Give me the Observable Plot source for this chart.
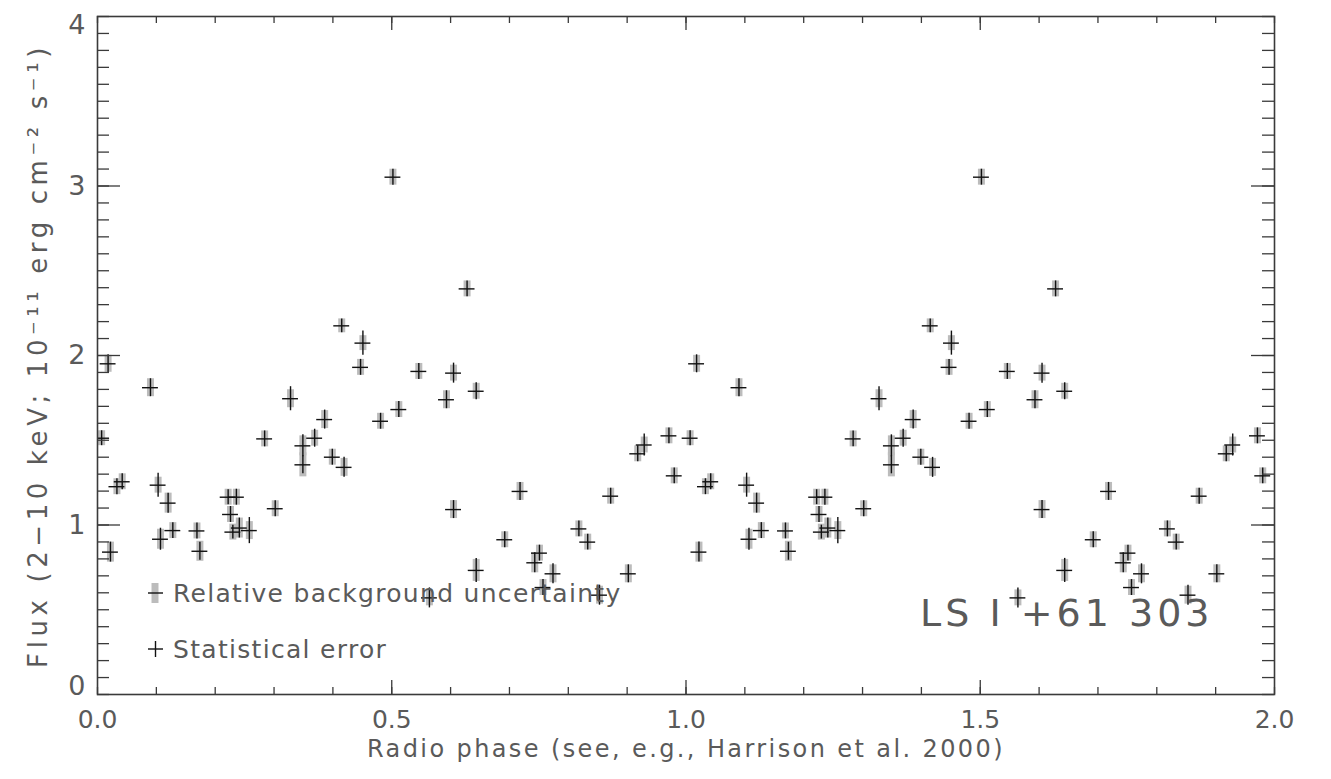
<!DOCTYPE html>
<html><head><meta charset="utf-8">
<script src="https://cdn.jsdelivr.net/npm/d3@7"></script>
<script src="https://cdn.jsdelivr.net/npm/@observablehq/plot@0.6"></script>
<style>
body{margin:0;background:#fff;}
#chart{width:1331px;height:779px;}
svg text{font-family:"DejaVu Sans",sans-serif;}
</style></head><body><div id="chart"></div>
<script>
// One orbital cycle of data (radio phase 0–1); the figure repeats it for phase 1–2.
const phase = [0.007,0.018,0.022,0.033,0.042,0.090,0.103,0.107,0.120,0.128,0.169,0.174,0.222,0.226,0.230,0.236,0.241,0.258,0.284,0.302,0.328,0.349,0.349,0.369,0.386,0.399,0.415,0.419,0.451,0.447,0.481,0.502,0.512,0.546,0.564,0.593,0.605,0.605,0.628,0.6435,0.6435,0.692,0.718,0.743,0.751,0.757,0.774,0.818,0.833,0.853,0.872,0.902,0.918,0.929,0.971,0.980];
const flux = [1.512,1.951,0.840,1.226,1.255,1.810,1.235,0.916,1.129,0.967,0.965,0.845,1.164,1.062,0.958,1.164,0.982,0.967,1.508,1.096,1.745,1.467,1.355,1.512,1.622,1.400,2.175,1.340,2.073,1.930,1.612,3.052,1.681,1.906,0.570,1.739,1.896,1.091,2.393,1.789,0.732,0.913,1.198,0.777,0.834,0.631,0.712,0.977,0.899,0.586,1.170,0.712,1.420,1.472,1.526,1.290];
const statErr = [0.044,0.053,0.059,0.047,0.047,0.053,0.071,0.065,0.059,0.047,0.047,0.053,0.044,0.047,0.041,0.047,0.059,0.077,0.047,0.047,0.071,0.065,0.053,0.053,0.056,0.047,0.041,0.059,0.071,0.047,0.047,0.047,0.047,0.047,0.059,0.053,0.059,0.053,0.047,0.050,0.071,0.047,0.053,0.059,0.047,0.047,0.059,0.047,0.047,0.059,0.047,0.053,0.047,0.065,0.047,0.047];
const bkgErr = [0.044,0.050,0.059,0.047,0.047,0.053,0.047,0.059,0.059,0.047,0.047,0.059,0.047,0.047,0.047,0.047,0.059,0.053,0.047,0.047,0.053,0.059,0.071,0.047,0.053,0.047,0.041,0.053,0.044,0.047,0.047,0.047,0.047,0.047,0.047,0.053,0.047,0.053,0.047,0.047,0.065,0.047,0.053,0.059,0.047,0.047,0.053,0.047,0.047,0.053,0.047,0.053,0.047,0.047,0.047,0.047];
const phaseHalfBin = 0.0135;
const cycles = [0, 1];
const xTickLabels = [0, 0.5, 1, 1.5, 2];
const yTickLabels = [0, 1, 2, 3, 4];
const xMinorTicks = d3.range(0, 21).map(i => i / 10);
const xMajorTicks = [0.5, 1, 1.5];
const yMinorTicks = d3.range(0, 41).map(i => i / 10);
const yMajorTicks = [1, 2, 3];
const xTitle = "Radio phase (see, e.g., Harrison et al. 2000)";
const yTitle = "Flux (2\u221210 keV; 10\u207B\u00B9\u00B9 erg cm\u207B\u00B2 s\u207B\u00B9)";
const sourceName = "LS I +61 303";
const legendLabels = ["Relative background uncertainty", "Statistical error"];

const rows = cycles.flatMap(c => phase.map((p, i) => ({phase: p + c, flux: flux[i], stat: statErr[i], bkg: bkgErr[i]})));

const W = 1331, H = 779, mT = 16, mR = 57, mB = 85, mL = 97;
const fw = W - mL - mR, fh = H - mT - mB;
const axisColor = "#3a3a3a", textColor = "#5a5a5a";
const yLab = {tickSize: 0, tickPadding: 12, tickFormat: d3.format("d"), fontSize: 27, label: null};

const chart = Plot.plot({
  width: W, height: H,
  marginTop: mT, marginRight: mR, marginBottom: mB, marginLeft: mL,
  x: {domain: [0, 2]},
  y: {domain: [0, 4]},
  style: {background: "#fff", color: textColor, fontFamily: "DejaVu Sans, sans-serif"},
  marks: [
    Plot.ruleX(rows, {x: "phase", y1: d => d.flux - d.bkg, y2: d => d.flux + d.bkg, stroke: "#bcbcbc", strokeWidth: 7, clip: true}),
    Plot.ruleX(rows, {x: "phase", y1: d => d.flux - d.stat, y2: d => d.flux + d.stat, stroke: "#111", strokeWidth: 1.4, clip: true}),
    Plot.ruleY(rows, {y: "flux", x1: d => d.phase - phaseHalfBin, x2: d => d.phase + phaseHalfBin, stroke: "#111", strokeWidth: 1.4, clip: true}),
    // bottom & top ticks
    Plot.tickX(xMinorTicks, {x: d => d, insetTop: fh - 7, stroke: axisColor, strokeWidth: 1.3}),
    Plot.tickX(xMajorTicks, {x: d => d, insetTop: fh - 14, stroke: axisColor, strokeWidth: 1.3}),
    Plot.tickX(xMinorTicks, {x: d => d, insetBottom: fh - 7, stroke: axisColor, strokeWidth: 1.3}),
    Plot.tickX(xMajorTicks, {x: d => d, insetBottom: fh - 14, stroke: axisColor, strokeWidth: 1.3}),
    // left & right ticks
    Plot.tickY(yMinorTicks, {y: d => d, insetRight: fw - 12, stroke: axisColor, strokeWidth: 1.3}),
    Plot.tickY(yMajorTicks, {y: d => d, insetRight: fw - 23, stroke: axisColor, strokeWidth: 1.3}),
    Plot.tickY(yMinorTicks, {y: d => d, insetLeft: fw - 12, stroke: axisColor, strokeWidth: 1.3}),
    Plot.tickY(yMajorTicks, {y: d => d, insetLeft: fw - 23, stroke: axisColor, strokeWidth: 1.3}),
    Plot.frame({stroke: axisColor, strokeWidth: 1.6}),
    Plot.axisX(xTickLabels, {tickSize: 0, tickPadding: 16, tickFormat: d3.format(".1f"), fontSize: 25, label: null}),
    Plot.axisY(yTickLabels.slice(1, 4), yLab),
    Plot.axisY(yTickLabels.slice(0, 1), {...yLab, dy: -8}),
    Plot.axisY(yTickLabels.slice(4), {...yLab, dy: 9}),
    Plot.text([xTitle], {frameAnchor: "bottom", dy: 62, fontSize: 24, fill: textColor, textAnchor: "middle"}),
    Plot.text([yTitle], {frameAnchor: "left", rotate: -90, dx: -59, fontSize: 26, fill: textColor, textAnchor: "middle"}),
    Plot.text([sourceName], {frameAnchor: "bottom-right", dx: -61, dy: -69, textAnchor: "end", lineAnchor: "bottom", fontSize: 38, fill: textColor})
  ]
});
document.getElementById("chart").appendChild(chart);

const svg = d3.select(chart);
svg.selectAll("text").filter(function () { return this.textContent === xTitle; })
  .style("letter-spacing", "2.4px");
svg.selectAll("text").filter(function () { return this.textContent === yTitle; })
  .style("letter-spacing", "4.6px");
svg.selectAll("text").filter(function () { return this.textContent === sourceName; })
  .style("letter-spacing", "4px");

// legend (key) inside the frame, lower-left
const lg = svg.append("g");
lg.append("line").attr("x1", 155).attr("x2", 155).attr("y1", 583).attr("y2", 603).attr("stroke", "#bcbcbc").attr("stroke-width", 7);
lg.append("line").attr("x1", 148).attr("x2", 163).attr("y1", 593).attr("y2", 593).attr("stroke", "#111").attr("stroke-width", 1.4);
lg.append("line").attr("x1", 148).attr("x2", 163).attr("y1", 649).attr("y2", 649).attr("stroke", "#111").attr("stroke-width", 1.4);
lg.append("line").attr("x1", 155.5).attr("x2", 155.5).attr("y1", 641).attr("y2", 657).attr("stroke", "#111").attr("stroke-width", 1.4);
lg.selectAll("text").data(legendLabels).join("text")
  .attr("x", 173).attr("y", (d, i) => i === 0 ? 602 : 658)
  .attr("text-anchor", "start")
  .attr("font-size", 25).attr("fill", textColor)
  .style("letter-spacing", "1.3px")
  .text(d => d);
</script></body></html>
